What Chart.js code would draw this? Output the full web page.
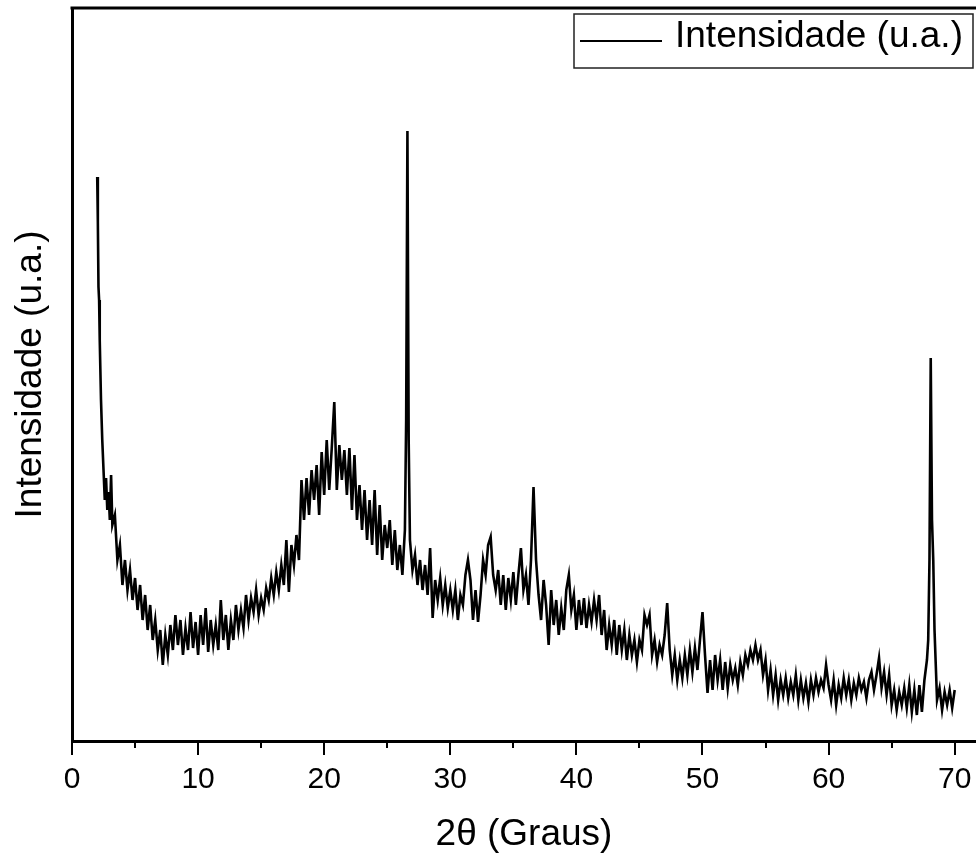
<!DOCTYPE html>
<html lang="pt">
<head>
<meta charset="utf-8">
<title>DRX</title>
<script src="https://cdn.jsdelivr.net/npm/chart.js@4.4.1/dist/chart.umd.min.js"></script>
<style>
  html, body { margin: 0; padding: 0; background: #fff; overflow: hidden; }
  #drx { display: block; }
</style>
</head>
<body>
<canvas id="drx" width="976" height="855"></canvas>
<script>
// 2theta (graus)
const angulos = [
  2, 2.05, 2.1, 2.15, 2.2, 2.3, 2.4, 2.5, 2.6, 2.7, 2.8, 2.9, 3, 3.1, 3.2, 3.4, 3.6, 3.8,
  4, 4.2, 4.4, 4.6, 4.8,
  5, 5.2, 5.4, 5.6, 5.8,
  6, 6.2, 6.4, 6.6, 6.8,
  7, 7.2, 7.4, 7.6, 7.8,
  8, 8.2, 8.4, 8.6, 8.8,
  9, 9.2, 9.4, 9.6, 9.8,
  10, 10.2, 10.4, 10.6, 10.8,
  11, 11.2, 11.4, 11.6, 11.8,
  12, 12.2, 12.4, 12.6, 12.8,
  13, 13.2, 13.4, 13.6, 13.8,
  14, 14.2, 14.4, 14.6, 14.8,
  15, 15.2, 15.4, 15.6, 15.8,
  16, 16.2, 16.4, 16.6, 16.8,
  17, 17.2, 17.4, 17.6, 17.8,
  18, 18.2, 18.4, 18.6, 18.8,
  19, 19.2, 19.4, 19.6, 19.8,
  20, 20.2, 20.4, 20.6, 20.8,
  21, 21.2, 21.4, 21.6, 21.8,
  22, 22.2, 22.4, 22.6, 22.8,
  23, 23.2, 23.4, 23.6, 23.8,
  24, 24.2, 24.4, 24.6, 24.8,
  25, 25.2, 25.4, 25.6, 25.8,
  26, 26.2, 26.4, 26.5, 26.6, 26.7, 26.8,
  27, 27.2, 27.4, 27.6, 27.8,
  28, 28.2, 28.4, 28.6, 28.8,
  29, 29.2, 29.4, 29.6, 29.8,
  30, 30.2, 30.4, 30.6, 30.8,
  31, 31.2, 31.4, 31.6, 31.8,
  32, 32.2, 32.4, 32.6, 32.8,
  33, 33.2, 33.4, 33.6, 33.8,
  34, 34.2, 34.4, 34.6, 34.8,
  35, 35.2, 35.4, 35.6, 35.8,
  36, 36.2, 36.4, 36.6, 36.8,
  37, 37.2, 37.4, 37.6, 37.8,
  38, 38.2, 38.4, 38.6, 38.8,
  39, 39.2, 39.4, 39.6, 39.8,
  40, 40.2, 40.4, 40.6, 40.8,
  41, 41.2, 41.4, 41.6, 41.8,
  42, 42.2, 42.4, 42.6, 42.8,
  43, 43.2, 43.4, 43.6, 43.8,
  44, 44.2, 44.4, 44.6, 44.8,
  45, 45.2, 45.4, 45.6, 45.8,
  46, 46.2, 46.4, 46.6, 46.8,
  47, 47.2, 47.4, 47.6, 47.8,
  48, 48.2, 48.4, 48.6, 48.8,
  49, 49.2, 49.4, 49.6, 49.8,
  50, 50.2, 50.4, 50.6, 50.8,
  51, 51.2, 51.4, 51.6, 51.8,
  52, 52.2, 52.4, 52.6, 52.8,
  53, 53.2, 53.4, 53.6, 53.8,
  54, 54.2, 54.4, 54.6, 54.8,
  55, 55.2, 55.4, 55.6, 55.8,
  56, 56.2, 56.4, 56.6, 56.8,
  57, 57.2, 57.4, 57.6, 57.8,
  58, 58.2, 58.4, 58.6, 58.8,
  59, 59.2, 59.4, 59.6, 59.8,
  60, 60.2, 60.4, 60.6, 60.8,
  61, 61.2, 61.4, 61.6, 61.8,
  62, 62.2, 62.4, 62.6, 62.8,
  63, 63.2, 63.4, 63.6, 63.8,
  64, 64.2, 64.4, 64.6, 64.8,
  65, 65.2, 65.4, 65.6, 65.8,
  66, 66.2, 66.4, 66.6, 66.8,
  67, 67.2, 67.4, 67.6, 67.8, 67.9, 68, 68.1, 68.2, 68.3, 68.4, 68.6, 68.8,
  69, 69.2, 69.4, 69.6, 69.8,
  70
];

// intensidade (u.a.)
const intensidade = [
  564, 519, 454, 441, 401, 341, 301, 271, 241, 263, 231, 249, 221, 266, 216, 226, 181, 196,
  156, 181, 151, 171, 141,
  163, 131, 156, 121, 146,
  111, 136, 101, 121, 91,
  111, 76, 106, 86, 116,
  91, 126, 96, 121, 86,
  113, 91, 129, 93, 119,
  86, 126, 96, 133, 89,
  121, 96, 116, 91, 141,
  101, 126, 91, 121, 101,
  136, 111, 131, 113, 146,
  121, 143, 129, 151, 126,
  143, 131, 153, 141, 163,
  146, 169, 151, 176, 156,
  201, 149, 196, 176, 206,
  181, 261, 221, 263, 226,
  271, 241, 276, 226, 289,
  246, 301, 251, 293, 339,
  251, 296, 261, 291, 246,
  293, 231, 286, 221, 256,
  211, 251, 201, 241, 196,
  251, 186, 236, 181, 216,
  193, 221, 176, 211, 171,
  196, 166, 211, 321, 610, 301, 201,
  171, 186, 156, 181, 151,
  176, 146, 193, 123, 161,
  141, 163, 136, 156, 133,
  151, 131, 151, 121, 146,
  136, 166, 181, 161, 121,
  151, 119, 146, 181, 166,
  196, 204, 166, 151, 171,
  136, 166, 131, 163, 141,
  169, 136, 166, 193, 151,
  166, 136, 181, 254, 181,
  146, 121, 161, 136, 96,
  151, 116, 141, 106, 133,
  111, 151, 166, 131, 146,
  111, 141, 116, 143, 113,
  136, 119, 141, 121, 146,
  106, 131, 91, 116, 96,
  121, 86, 116, 91, 111,
  81, 106, 86, 101, 79,
  101, 91, 126, 116, 126,
  86, 101, 79, 96, 86,
  106, 138, 91, 66, 86,
  61, 81, 63, 86, 66,
  91, 69, 93, 71, 101,
  129, 86, 48, 81, 51,
  86, 61, 81, 51, 79,
  53, 76, 61, 73, 56,
  79, 66, 86, 76, 91,
  81, 96, 81, 91, 66,
  81, 51, 71, 46, 66,
  41, 61, 46, 63, 43,
  59, 46, 66, 41, 61,
  43, 58, 39, 61, 46,
  63, 49, 61, 53, 76,
  56, 41, 61, 36, 56,
  43, 63, 46, 61, 41,
  58, 46, 63, 51, 59,
  43, 61, 69, 51, 66,
  83, 53, 69, 46, 66,
  36, 51, 31, 49, 36,
  53, 33, 56, 29, 51,
  26, 56, 29, 61, 81, 101, 181, 383, 221, 181, 111, 41, 53,
  31, 49, 36, 51, 33,
  51
];

const ticksMaiores = [0, 10, 20, 30, 40, 50, 60, 70];
const ticksMenores = [5, 15, 25, 35, 45, 55, 65];

const rotuloSerie = "Intensidade (u.a.)";
const tituloX = "2θ (Graus)";
const tituloY = "Intensidade (u.a.)";

if (angulos.length !== intensidade.length) {
  console.error("tamanhos diferentes", angulos.length, intensidade.length);
}

const FONTE = '"Liberation Sans", Arial, sans-serif';
Chart.defaults.font.family = FONTE;
Chart.defaults.color = "#000";

const pontos = angulos.map((a, i) => ({ x: a, y: intensidade[i] }));

// moldura de cima, marcas do eixo x e legenda com borda
const moldura = {
  id: "moldura",
  afterDraw(chart) {
    const { ctx, chartArea, scales: { x } } = chart;
    ctx.save();
    ctx.strokeStyle = "#000";
    ctx.lineWidth = 3;
    ctx.beginPath();
    ctx.moveTo(chartArea.left - 1.5, chartArea.top);
    ctx.lineTo(chartArea.right, chartArea.top);
    ctx.stroke();

    ctx.lineWidth = 2;
    x.ticks.forEach(t => {
      const px = Math.round(x.getPixelForValue(t.value));
      const len = ticksMaiores.includes(t.value) ? 14 : 7;
      ctx.beginPath();
      ctx.moveTo(px, chartArea.bottom);
      ctx.lineTo(px, chartArea.bottom + len);
      ctx.stroke();
    });

    // legenda
    const ds = chart.data.datasets[0];
    const bx = chartArea.right - 402, by = chartArea.top + 6, bw = 399, bh = 54;
    ctx.fillStyle = "#fff";
    ctx.fillRect(bx, by, bw, bh);
    ctx.lineWidth = 1.5;
    ctx.strokeStyle = "#222";
    ctx.strokeRect(bx, by, bw, bh);
    ctx.strokeStyle = ds.borderColor;
    ctx.lineWidth = 2;
    ctx.beginPath();
    ctx.moveTo(bx + 6, by + 27);
    ctx.lineTo(bx + 88, by + 27);
    ctx.stroke();
    ctx.fillStyle = "#000";
    ctx.font = "37px " + FONTE;
    ctx.textBaseline = "alphabetic";
    ctx.fillText(ds.label, bx + 101, by + 33);
    ctx.restore();
  }
};

new Chart(
  document.getElementById("drx"),
  {
    type: "line",
    data: {
      datasets: [{
        label: rotuloSerie,
        data: pontos,
        borderColor: "#000",
        borderWidth: 2.6,
        pointRadius: 0,
        tension: 0,
        fill: false
      }]
    },
    options: {
      responsive: false,
      animation: false,
      devicePixelRatio: 1,
      layout: { padding: { top: 8, right: 0, bottom: 0, left: 0 } },
      plugins: {
        legend: { display: false },
        tooltip: { enabled: false }
      },
      scales: {
        x: {
          type: "linear",
          min: 0,
          max: 71.69,
          afterBuildTicks: s => {
            s.ticks = ticksMaiores.concat(ticksMenores)
              .sort((a, b) => a - b)
              .map(v => ({ value: v }));
          },
          afterFit: s => {
            s.height = 114;
            s.paddingLeft = 0;
            s.paddingRight = 0;
          },
          grid: { display: true, drawOnChartArea: false, drawTicks: false },
          border: { display: true, color: "#000", width: 3 },
          ticks: {
            autoSkip: false,
            maxRotation: 0,
            padding: 21,
            font: { size: 30 },
            callback: v => ticksMaiores.includes(v) ? String(v) : ""
          },
          title: {
            display: true,
            text: tituloX,
            font: { size: 37, lineHeight: 1.08 },
            padding: { top: 0, bottom: 0 }
          }
        },
        y: {
          min: 0,
          max: 733,
          afterFit: s => {
            s.width = 72;
            s.paddingTop = 0;
            s.paddingBottom = 0;
          },
          grid: { display: true, drawOnChartArea: false, drawTicks: false },
          border: { display: true, color: "#000", width: 3 },
          ticks: { display: false },
          title: {
            display: true,
            text: tituloY,
            font: { size: 37, lineHeight: 1.2 },
            padding: { top: 9, bottom: 0 }
          }
        }
      }
    },
    plugins: [moldura]
  }
);
</script>
</body>
</html>
